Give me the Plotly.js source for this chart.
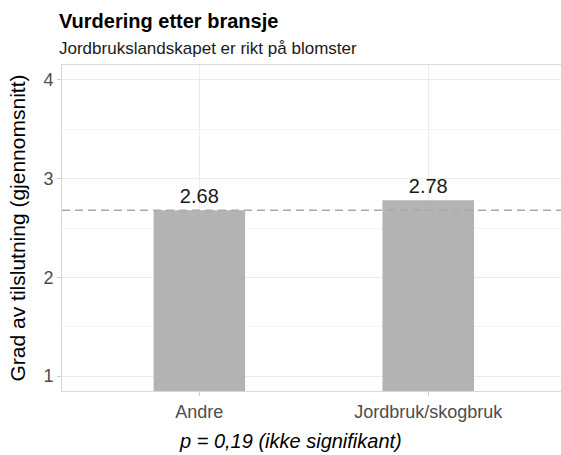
<!DOCTYPE html>
<html>
<head>
<meta charset="utf-8">
<script src="https://cdn.plot.ly/plotly-3.0.1.min.js"></script>
<style>body{margin:0;padding:0;}#chart{width:561px;height:455px;}</style>
</head>
<body>
<div id="chart"></div>
<script>
const categories = ["Andre", "Jordbruk/skogbruk"];
const values = [2.68, 2.78];
const labels = ["2.68", "2.78"];
const referenceLine = 2.68;
const yTicks = [1, 2, 3, 4];
const minorTicks = [1.5, 2.5, 3.5];

const font = "Liberation Sans, Arial, sans-serif";

const bars = {
  type: "bar",
  x: categories,
  y: values,
  width: 0.4,
  marker: {color: "#b3b3b3", line: {width: 0}},
  text: labels,
  textposition: "outside",
  cliponaxis: false,
  textfont: {family: font, size: 20, color: "#1a1a1a"},
  hoverinfo: "none"
};

const layout = {
  width: 561, height: 455,
  margin: {l: 62, r: 0, t: 65, b: 64},
  paper_bgcolor: "white",
  plot_bgcolor: "white",
  showlegend: false,
  font: {family: font},
  xaxis: {
    type: "category",
    range: [-0.6, 1.58],
    showgrid: true, gridcolor: "#ebebeb", gridwidth: 1,
    ticks: "outside", ticklen: 4, tickcolor: "#cccccc",
    tickfont: {family: font, size: 18, color: "#4d4d4d"},
    showline: true, linecolor: "#d9d9d9", linewidth: 1, mirror: true,
    zeroline: false, fixedrange: true
  },
  yaxis: {
    range: [0.85, 4.15],
    tickvals: yTicks,
    ticktext: yTicks.map(String),
    showgrid: true, gridcolor: "#ebebeb", gridwidth: 1,
    minor: {tickvals: minorTicks, showgrid: true, gridcolor: "#f4f4f4", gridwidth: 1, ticks: ""},
    ticks: "outside", ticklen: 4, tickcolor: "#cccccc",
    tickfont: {family: font, size: 18, color: "#4d4d4d"},
    showline: true, linecolor: "#d9d9d9", linewidth: 1, mirror: true,
    zeroline: false, fixedrange: true,
    title: {text: "Grad av tilslutning (gjennomsnitt)", font: {family: font, size: 21, color: "#000"}, standoff: 12}
  },
  shapes: [{
    type: "line", xref: "paper", x0: 0, x1: 1, yref: "y", y0: referenceLine, y1: referenceLine,
    line: {color: "#aaaaaa", width: 1.6, dash: "8px,5px"}, layer: "above"
  }],
  annotations: [
    {
      text: "<b>Vurdering etter bransje</b>",
      xref: "paper", yref: "paper", x: -0.01, y: 1.135, xanchor: "left", yanchor: "middle",
      showarrow: false, font: {family: font, size: 20, color: "#000"}
    },
    {
      text: "Jordbrukslandskapet er rikt på blomster",
      xref: "paper", yref: "paper", x: -0.01, y: 1.052, xanchor: "left", yanchor: "middle",
      showarrow: false, font: {family: font, size: 17, color: "#1a1a1a"}
    },
    {
      text: "<i>p = 0,19 (ikke signifikant)</i>",
      xref: "paper", yref: "paper", x: 0.457, y: -0.152, xanchor: "center", yanchor: "middle",
      showarrow: false, font: {family: font, size: 20, color: "#000"}
    }
  ]
};

Plotly.newPlot("chart", [bars], layout, {displayModeBar: false, staticPlot: true});
</script>
</body>
</html>
